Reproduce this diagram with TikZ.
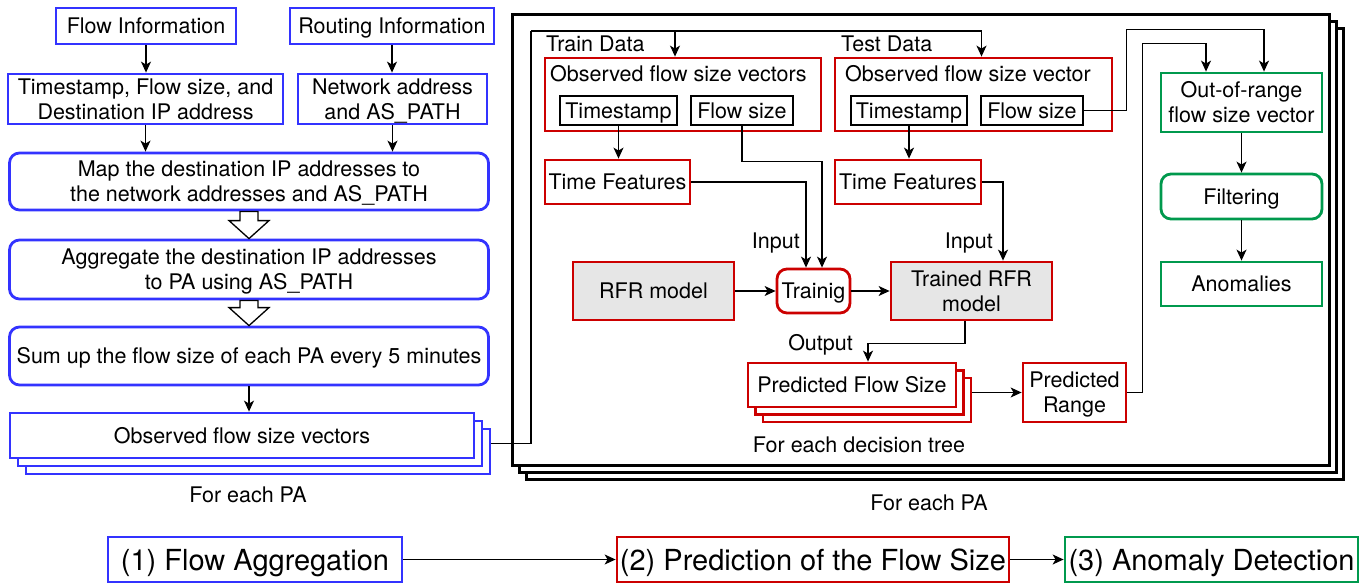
\documentclass[tikz,border=0pt]{standalone}
\usepackage{fontspec}
\setmainfont{TeX Gyre Heros}
\usetikzlibrary{arrows.meta,calc,shadows}
\definecolor{pablue}{HTML}{3333FF}
\definecolor{pared}{HTML}{CC0000}
\definecolor{pagreen}{HTML}{00994D}
\definecolor{pagrey}{HTML}{E6E6E6}
\newcommand{\hollowarrow}[2]{%
	\draw[hollowarr] ($(#1.south)+(-9,0)$) -- ($(#2.north)+(-9,-18)$) -- ++(-11,0) -- (#2.north) -- ++(20,-18) -- ++(-11,0) -- ($(#1.south)+(9,0)$) -- cycle;}
\begin{document}
\begin{tikzpicture}[x=1pt, y=-1pt,
		every node/.style={font=\fontsize{21.5}{25}\selectfont, inner sep=0pt, align=center, text height=15.5pt, text depth=0pt},
		twolines/.style={text height=40.5pt},
		bluebox/.style={draw=pablue, line width=2.8pt, fill=white},
		redbox/.style={draw=pared, line width=2.8pt, fill=white},
		greenbox/.style={draw=pagreen, line width=2.8pt, fill=white},
		subbox/.style={draw=black, line width=1.3pt},
		soft/.style={rounded corners=10pt},
		rfrbox/.style={redbox, fill=pagrey},
		stagebox/.style={font=\fontsize{29}{34}\selectfont, text height=21pt, line width=2.8pt, fill=white, minimum height=45pt},
		conn/.style={line width=1.3pt, -{Stealth[length=11pt,width=10pt,inset=3pt]}},
		wire/.style={line width=1.3pt},
		hollowarr/.style={draw=black, line width=1.3pt, fill=white, line join=miter},
		bluecopies/.style={general shadow={shadow xshift=16pt, shadow yshift=-16pt, fill=white, draw=pablue, line width=2.8pt},
			general shadow={shadow xshift=8pt, shadow yshift=-8pt, fill=white, draw=pablue, line width=2.8pt}},
		redcopies/.style={general shadow={shadow xshift=15pt, shadow yshift=-15pt, fill=white, draw=pared, line width=2.8pt},
			general shadow={shadow xshift=7.5pt, shadow yshift=-7.5pt, fill=white, draw=pared, line width=2.8pt}},
		pacopies/.style={general shadow={shadow xshift=14pt, shadow yshift=-14pt, fill=white, draw=black, line width=3pt},
			general shadow={shadow xshift=7pt, shadow yshift=-7pt, fill=white, draw=black, line width=3pt}}]
	\useasboundingbox (0,0) rectangle (1371,583);

	\node[bluebox, minimum width=180pt, minimum height=36pt] (flowinfo) at (146,26) {Flow Information};
	\node[bluebox, minimum width=204pt, minimum height=36pt] (routinginfo) at (392,26) {Routing Information};
	\node[bluebox, twolines, minimum width=275pt, minimum height=50pt] (flowfields) at (145.5,99) {Timestamp, Flow size, and\\Destination IP address};
	\node[bluebox, twolines, minimum width=189pt, minimum height=50pt] (routefields) at (392.5,99) {Network address\\and AS\_PATH};
	\node[bluebox, soft, twolines, minimum width=479pt, minimum height=57pt] (mapping) at (249,181.5) {Map the destination IP addresses to\\the network addresses and AS\_PATH};
	\node[bluebox, soft, twolines, minimum width=479pt, minimum height=59pt] (aggregate) at (249,269.5) {Aggregate the destination IP addresses\\to PA using AS\_PATH};
	\node[bluebox, soft, minimum width=479pt, minimum height=58pt] (sumup) at (249,356) {Sum up the flow size of each PA every 5 minutes};
	\node[bluebox, bluecopies, minimum width=464pt, minimum height=45pt] (observed) at (242,435.5) {Observed flow size vectors};
	\node[anchor=base] (eachpa) at (248,502) {For each PA};

	\draw[conn] (flowinfo.south) -- (flowinfo.south |- flowfields.north);
	\draw[conn] (routinginfo.south) -- (routinginfo.south |- routefields.north);
	\draw[conn] (flowfields.south) -- (flowfields.south |- mapping.north);
	\draw[conn] (routefields.south) -- (routefields.south |- mapping.north);
	\hollowarrow{mapping}{aggregate}
	\hollowarrow{aggregate}{sumup}
	\draw[conn] (sumup.south) -- (sumup.south |- observed.north);

	\node[draw=black, line width=3pt, fill=white, pacopies, minimum width=817pt, minimum height=450pt] (perpa) at (920.5,240) {};
	\node[anchor=base] (eachpa2) at (929,510) {For each PA};

	\node[anchor=base west] (trainlabel) at (546,52) {Train Data};
	\node[redbox, minimum width=276pt, minimum height=73pt] (trainobs) at (683,94.5) {};
	\node[anchor=base west] (traintitle) at (550,82) {Observed flow size vectors};
	\node[subbox, minimum width=117pt, minimum height=29pt] (traints) at (618.5,110.5) {Timestamp};
	\node[subbox, minimum width=102pt, minimum height=29pt] (trainfs) at (742,110.5) {Flow size};
	\node[redbox, minimum width=145pt, minimum height=44pt] (traintf) at (617.5,182) {Time Features};

	\node[anchor=base west] (testlabel) at (841,52) {Test Data};
	\node[redbox, minimum width=277pt, minimum height=73pt] (testobs) at (973.5,94.5) {};
	\node[anchor=base west] (testtitle) at (845,82) {Observed flow size vector};
	\node[subbox, minimum width=116pt, minimum height=29pt] (testts) at (909,110.5) {Timestamp};
	\node[subbox, minimum width=102pt, minimum height=29pt] (testfs) at (1032,110.5) {Flow size};
	\node[redbox, minimum width=146pt, minimum height=44pt] (testtf) at (908,182) {Time Features};

	\node[rfrbox, minimum width=161pt, minimum height=58pt] (rfr) at (653.5,291) {RFR model};
	\node[redbox, soft, minimum width=73pt, minimum height=44pt] (training) at (813.5,291) {Trainig};
	\node[rfrbox, twolines, minimum width=161pt, minimum height=58pt] (trained) at (971.5,291) {Trained RFR\\model};
	\node[redbox, redcopies, minimum width=208pt, minimum height=44pt] (predsize) at (852,385) {Predicted Flow Size};
	\node[anchor=base] (eachtree) at (859,452) {For each decision tree};
	\node[redbox, twolines, minimum width=103pt, minimum height=59pt] (predrange) at (1074.5,392.5) {Predicted\\Range};

	\node[greenbox, twolines, minimum width=161pt, minimum height=59pt] (outrange) at (1241.5,102.5) {Out-of-range\\flow size vector};
	\node[greenbox, soft, minimum width=161pt, minimum height=45pt] (filtering) at (1241.5,196.5) {Filtering};
	\node[greenbox, minimum width=161pt, minimum height=44pt] (anomalies) at (1241.5,284) {Anomalies};

	\coordinate (fork) at (531,31);
	\draw[wire] ($(observed.east)+(16,8)$) -| (fork);
	\draw[conn] (fork) -| ($(trainobs.north)+(-8,0)$);
	\draw[conn] (fork) -| ($(testobs.north)+(8,0)$);
	\draw[conn] (traints.south) -- (traints.south |- traintf.north);
	\draw[conn] (trainfs.south) -- ++(0,36) -| ($(training.north)+(8.5,0)$);
	\draw[conn] (traintf.east) -| ($(training.north)+(-7.5,0)$);
	\node[anchor=base east] (traininput) at (800,248) {Input};
	\draw[conn] (rfr) -- (training);
	\draw[conn] (training) -- (trained);
	\draw[conn] (testts.south) -- (testts.south |- testtf.north);
	\draw[conn] (testtf.east) -| ($(trained.north)+(31.5,0)$);
	\node[anchor=base east] (testinput) at (993,248) {Input};
	\draw[conn] ($(trained.south)+(-6.5,0)$) -- ++(0,22) -| ($(predsize.north)+(16,0)$);
	\node[anchor=base east] (output) at (853,350) {Output};
	\draw[conn] ($(predsize.east)+(15,7.5)$) -- (predrange.west);
	\draw[conn] (predrange.east) -- ++(15,0) |- ($(outrange.north)+(-35.5,-28)$) -- ($(outrange.north)+(-35.5,0)$);
	\draw[conn] (testfs.east) -- ++(43,0) |- ($(outrange.north)+(22.5,-42)$) -- ($(outrange.north)+(22.5,0)$);
	\draw[conn] (outrange) -- (filtering);
	\draw[conn] (filtering) -- (anomalies);

	\node[stagebox, draw=pablue, minimum width=294pt] (stageone) at (255,559.5) {(1) Flow Aggregation};
	\node[stagebox, draw=pared, minimum width=392pt] (stagetwo) at (813,559.5) {(2) Prediction of the Flow Size};
	\node[stagebox, draw=pagreen, minimum width=293pt] (stagethree) at (1211.5,559.5) {(3) Anomaly Detection};
	\draw[conn] (stageone) -- (stagetwo);
	\draw[conn] (stagetwo) -- (stagethree);
\end{tikzpicture}
\end{document}
